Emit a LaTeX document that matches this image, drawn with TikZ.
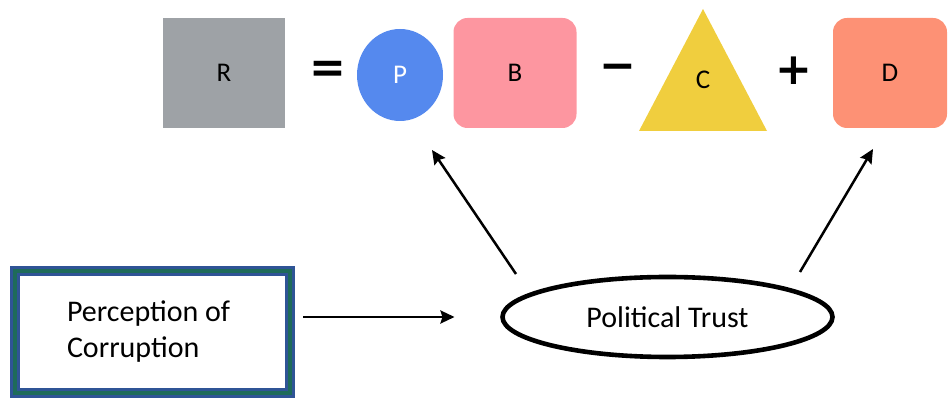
\documentclass[tikz,border=0pt]{standalone}
\usepackage{fontspec}
\setmainfont{Carlito}
\newfontfamily\opfont{DejaVu Sans}
\usetikzlibrary{arrows.meta,shapes.geometric}

\definecolor{rgray}{HTML}{9EA2A6}
\definecolor{pblue}{HTML}{5589EE}
\definecolor{bpink}{HTML}{FD96A0}
\definecolor{cyellow}{HTML}{F0CE3E}
\definecolor{dorange}{HTML}{FD9175}
\definecolor{edgeblue}{HTML}{2F5496}
\definecolor{edgegreen}{HTML}{1E6B5A}

\begin{document}
\begin{tikzpicture}[x=0.5pt, y=-0.5pt, >={Stealth[length=7pt,width=6.5pt,inset=1pt]},
    letter/.style={font=\fontsize{13.5}{15}\selectfont},
    oper/.style={font=\opfont\bfseries\fontsize{22}{24}\selectfont},
    tile/.style={letter, inner sep=0pt, minimum width=#1, minimum height=55pt},
    label/.style={font=\fontsize{15}{18}\selectfont},
    arr/.style={->, line width=1.25pt}]

    \useasboundingbox (0,0) rectangle (948,400);

    %========================
    % Equation: R = P B - C + D
    %========================
    \node[tile=61pt, fill=rgray] (r) at (224,73) {R};
    \node[oper] (eq) at (328,72) {=};

    % P circle
    \node[letter, ellipse, fill=pblue, text=white, inner sep=0pt,
        minimum width=43pt, minimum height=46pt] (p) at (400,75) {P};

    \node[tile=61.5pt, fill=bpink, rounded corners=7pt] (b) at (515,73) {B};
    \node[oper] (minus) at (618,72) {−};

    % C triangle
    \fill[cyellow] (639,131) -- (703,9) -- (767,131) -- cycle;
    \node[letter] (c) at (703,80) {C};

    \node[oper] (plus) at (794,71) {+};
    \node[tile=57pt, fill=dorange, rounded corners=7pt] (d) at (890,73) {D};

    %========================
    % Corruption -> trust
    %========================
    \node[label, draw=edgeblue, line width=1.5pt, double=edgegreen, double distance=2pt,
        minimum width=137.5pt, minimum height=61pt, outer sep=0pt,
        align=flush left, text width=85.5pt, inner sep=0pt] (percep) at (152.5,332)
        {Perception of\\Corruption};

    \node[label, ellipse, draw, line width=2.3pt, minimum width=165pt,
        minimum height=40pt, inner sep=0pt, outer sep=0pt] (trust) at (667.5,317)
        {Political Trust};

    \draw[arr, shorten <=6.5pt, shorten >=24pt] (percep.east |- trust.west) -- (trust.west);

    % Trust feeds P and D
    \coordinate (trustL) at (516,274);
    \coordinate (trustR) at (800,272);
    \coordinate (pAim) at (432,150);
    \coordinate (dAim) at (873,149);
    \draw[arr] (trustL) -- (pAim);
    \draw[arr] (trustR) -- (dAim);

\end{tikzpicture}
\end{document}
